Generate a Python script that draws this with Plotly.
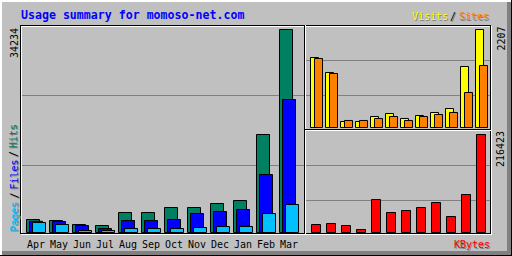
import plotly.graph_objects as go

# ---------------- data ----------------
months = ["Apr", "May", "Jun", "Jul", "Aug", "Sep", "Oct", "Nov", "Dec", "Jan", "Feb", "Mar"]
hits   = [2192, 2024, 1349, 1180, 3373, 3373, 4216, 4216, 4890, 5396, 16527, 34234]
files  = [1890, 1855, 1180, 675, 2024, 2024, 2192, 3204, 3541, 3879, 9781, 22429]
pages  = [1686, 1349, 337, 337, 675, 675, 675, 843, 1012, 1012, 3204, 4722]
visits = [1576, 1239, 135, 135, 248, 315, 203, 270, 338, 428, 1374, 2207]
sites  = [1554, 1216, 158, 158, 203, 248, 158, 248, 293, 338, 788, 1396]
kbytes = [17667, 19876, 15459, 6625, 72876, 44168, 48585, 55210, 66252, 35335, 83919, 216423]
title_text = "Usage summary for momoso-net.com"
legend_left = ["Pages", "Files", "Hits"]
legend_right = ["Visits", "Sites"]
kb_label = "KBytes"

# ---------------- styling ----------------
W, H = 512, 256
GREY, DKGREY, WHITE, BLACK = "#C0C0C0", "#808080", "#FFFFFF", "#000000"
C_HITS, C_FILES, C_PAGES = "#008060", "#0000FF", "#00C0FF"
C_VISITS, C_SITES, C_KB = "#FFFF00", "#FF8000", "#FF0000"
MONO = "DejaVu Sans Mono"


def pxx(x):
    return x / W


def pyy(y):
    return 1 - y / H


def yrange(maxv, base_row, bar_h, dom_top, dom_bot):
    s = maxv / bar_h
    base = base_row + 0.5
    top = base - bar_h
    return [-(dom_bot - base) * s, maxv + (top - dom_top) * s]


fig = go.Figure()


def bars(vals, color, xa, ya, off_px, w_px, unit):
    fig.add_trace(go.Bar(
        x=months, y=vals, xaxis=xa, yaxis=ya,
        offset=off_px / unit, width=w_px / unit,
        marker=dict(color=color, line=dict(color=BLACK, width=1)),
        hoverinfo="skip", showlegend=False))


bars(hits, C_HITS, "x", "y", -6, 13, 23)
bars(files, C_FILES, "x", "y", -3, 13, 23)
bars(pages, C_PAGES, "x", "y", 0, 13, 23)
bars(visits, C_VISITS, "x2", "y2", -3, 8, 15)
bars(sites, C_SITES, "x2", "y2", 1, 8, 15)
bars(kbytes, C_KB, "x3", "y3", -2, 9, 15)

# ---------------- shapes (frame, bevel, grid) ----------------
shapes = []


def rect(x0, y0, x1, y1, color, layer="above"):
    shapes.append(dict(type="rect", xref="paper", yref="paper",
                       x0=pxx(x0), x1=pxx(x1), y0=pyy(y1), y1=pyy(y0),
                       fillcolor=color, line=dict(width=0), layer=layer))


def hline(row, c0, c1, color, layer="above"):
    rect(c0, row, c1 + 1, row + 1, color, layer)


def vline(col, r0, r1, color, layer="above"):
    rect(col, r0, col + 1, r1 + 1, color, layer)


# grid lines
for r in (95, 165):
    hline(r, 21, 303, DKGREY, "below")
for r in (60, 95, 165, 200):
    hline(r, 306, 489, DKGREY, "below")

# bevel border
rect(0, 0, 512, 2, WHITE)
rect(0, 0, 2, 256, WHITE)
rect(507, 2, 511, 255, DKGREY)
rect(2, 251, 511, 255, DKGREY)
rect(511, 0, 512, 256, BLACK)
rect(0, 255, 512, 256, BLACK)

# main frame (black with white offset)
hline(26, 21, 491, WHITE)
hline(234, 21, 491, WHITE)
vline(21, 26, 234, WHITE)
vline(491, 26, 234, WHITE)
hline(25, 20, 490, BLACK)
hline(233, 20, 490, BLACK)
vline(20, 25, 233, BLACK)
vline(490, 25, 233, BLACK)
# section dividers
vline(305, 25, 233, WHITE)
vline(304, 25, 233, BLACK)
hline(130, 305, 490, WHITE)
hline(129, 305, 490, BLACK)

# ---------------- text ----------------
anns = []


def label(x, y, s, color, size=10, angle=0, shadow=False, family=MONO):
    if shadow:
        anns.append(dict(xref="paper", yref="paper", x=pxx(x + 1), y=pyy(y + 1), text=s,
                         showarrow=False, xanchor="center", yanchor="middle", textangle=angle,
                         borderpad=0, borderwidth=0,
                         font=dict(family=family, size=size, color=DKGREY)))
    anns.append(dict(xref="paper", yref="paper", x=pxx(x), y=pyy(y), text=s,
                     showarrow=False, xanchor="center", yanchor="middle", textangle=angle,
                     borderpad=0, borderwidth=0,
                     font=dict(family=family, size=size, color=color)))


label(132, 15.3, "<b>" + title_text + "</b>", C_FILES, size=11.6)

label(430, 16.5, legend_right[0], C_VISITS, shadow=True)
label(452.5, 16.5, "/", BLACK, shadow=True)
label(474, 16.5, legend_right[1], C_SITES, shadow=True)
label(471.5, 244.5, kb_label, C_KB, shadow=True)

label(13.5, 217, legend_left[0], C_PAGES, angle=-90, shadow=True)
label(13.5, 196, "/", BLACK, angle=-90, shadow=True)
label(13.5, 175, legend_left[1], C_FILES, angle=-90, shadow=True)
label(13.5, 154.5, "/", BLACK, angle=-90, shadow=True)
label(13.5, 136.5, legend_left[2], C_HITS, angle=-90, shadow=True)

label(14, 43, str(max(hits)), BLACK, angle=-90)
label(500.5, 39, str(max(visits)), BLACK, angle=-90)
label(500.5, 149.5, str(max(kbytes)), BLACK, angle=-90)

for m in months:
    anns.append(dict(xref="x", yref="paper", x=m, y=pyy(244.5), text=m, xshift=3.7,
                     showarrow=False, xanchor="center", yanchor="middle",
                     borderpad=0, borderwidth=0,
                     font=dict(family=MONO, size=10, color=BLACK)))

ax = dict(visible=False, fixedrange=True)
fig.update_layout(
    width=W, height=H,
    margin=dict(l=0, r=0, t=0, b=0, pad=0),
    paper_bgcolor=GREY, plot_bgcolor="rgba(0,0,0,0)",
    barmode="overlay", showlegend=False,
    xaxis=dict(domain=[pxx(21), pxx(303)], range=[-0.5, -0.5 + 282 / 23], anchor="y", **ax),
    yaxis=dict(domain=[pyy(233), pyy(25)], range=yrange(max(hits), 232, 203, 25, 233), anchor="x", **ax),
    xaxis2=dict(domain=[pxx(306), pxx(489)], range=[-0.5, -0.5 + 183 / 15], anchor="y2", **ax),
    yaxis2=dict(domain=[pyy(129), pyy(25)], range=yrange(max(visits), 127, 98, 25, 129), anchor="x2", **ax),
    xaxis3=dict(domain=[pxx(306), pxx(489)], range=[-0.5, -0.5 + 183 / 15], anchor="y3", **ax),
    yaxis3=dict(domain=[pyy(233), pyy(130)], range=yrange(max(kbytes), 232, 98, 130, 233), anchor="x3", **ax),
    shapes=shapes, annotations=anns,
)

fig.write_html("out.html", config={"displayModeBar": False})
